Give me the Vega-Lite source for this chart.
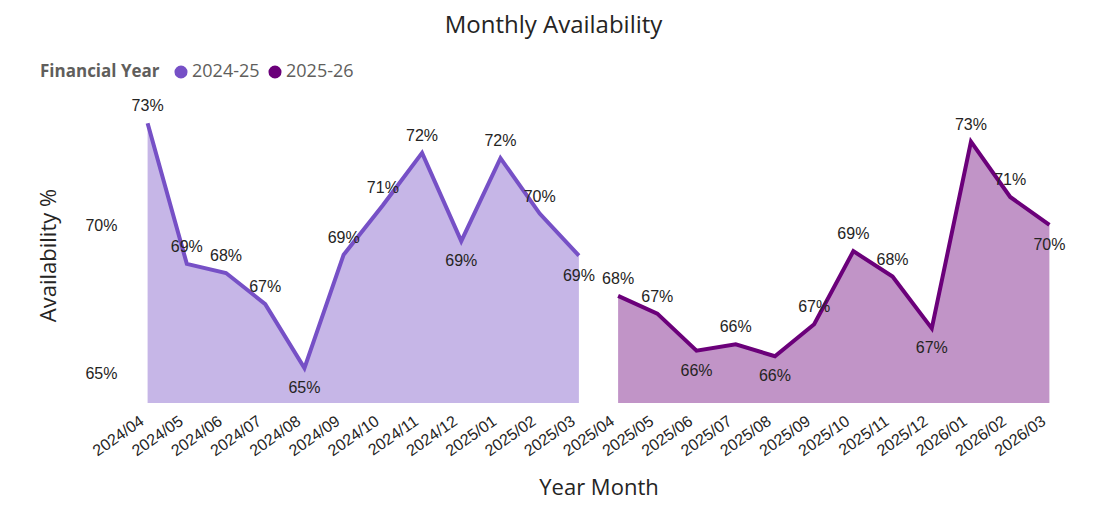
{
  "$schema": "https://vega.github.io/schema/vega-lite/v6.json",
  "width": 941,
  "height": 296,
  "autosize": {"type": "none"},
  "padding": {"left": 128, "top": 107, "right": 25, "bottom": 112},
  "background": "white",
  "title": {"text": "Monthly Availability", "frame": "group", "anchor": "middle", "dx": -45, "offset": 6, "baseline": "alphabetic", "fontSize": 24, "font": "Open Sans", "fontWeight": "normal", "color": "#252423"},
  "data": {"values": [
    {"month": "2024/04", "fy": "2024-25", "availability": 73.45},
    {"month": "2024/05", "fy": "2024-25", "availability": 68.70},
    {"month": "2024/06", "fy": "2024-25", "availability": 68.39},
    {"month": "2024/07", "fy": "2024-25", "availability": 67.34},
    {"month": "2024/08", "fy": "2024-25", "availability": 65.18},
    {"month": "2024/09", "fy": "2024-25", "availability": 69.01},
    {"month": "2024/10", "fy": "2024-25", "availability": 70.68},
    {"month": "2024/11", "fy": "2024-25", "availability": 72.45},
    {"month": "2024/12", "fy": "2024-25", "availability": 69.47},
    {"month": "2025/01", "fy": "2024-25", "availability": 72.27},
    {"month": "2025/02", "fy": "2024-25", "availability": 70.40},
    {"month": "2025/03", "fy": "2024-25", "availability": 68.98},
    {"month": "2025/04", "fy": "2025-26", "availability": 67.62},
    {"month": "2025/05", "fy": "2025-26", "availability": 67.02},
    {"month": "2025/06", "fy": "2025-26", "availability": 65.77},
    {"month": "2025/07", "fy": "2025-26", "availability": 65.98},
    {"month": "2025/08", "fy": "2025-26", "availability": 65.58},
    {"month": "2025/09", "fy": "2025-26", "availability": 66.66},
    {"month": "2025/10", "fy": "2025-26", "availability": 69.13},
    {"month": "2025/11", "fy": "2025-26", "availability": 68.27},
    {"month": "2025/12", "fy": "2025-26", "availability": 66.52},
    {"month": "2026/01", "fy": "2025-26", "availability": 72.83},
    {"month": "2026/02", "fy": "2025-26", "availability": 70.96},
    {"month": "2026/03", "fy": "2025-26", "availability": 70.02}
  ]},
  "encoding": {
    "x": {
      "field": "month", "type": "ordinal", "title": "Year Month",
      "scale": {"type": "point", "padding": 0.5},
      "axis": {"labelAngle": -35, "labelAlign": "right", "labelBaseline": "middle", "labelPadding": 16, "labelOffset": -6, "labelFont": "Liberation Sans", "labelFontSize": 16, "labelColor": "#252423", "domain": false, "ticks": false, "grid": false, "titleY": 84, "titleBaseline": "middle", "titleFont": "Open Sans", "titleFontSize": 22, "titleFontWeight": "normal", "titleColor": "#252423"}
    },
    "y": {
      "field": "availability", "type": "quantitative", "title": "Availability %", "stack": null,
      "scale": {"domain": [64, 74], "zero": false, "nice": false},
      "axis": {"values": [65, 70], "labelExpr": "datum.value + '%'", "domain": false, "ticks": false, "grid": false, "labelPadding": 11, "labelFont": "Liberation Sans", "labelFontSize": 16, "labelColor": "#252423", "titleFont": "Open Sans", "titleFontSize": 22, "titleFontWeight": "normal", "titleColor": "#252423", "titleX": -80, "titleBaseline": "middle"}
    },
    "color": {
      "field": "fy", "type": "nominal", "title": "Financial Year",
      "scale": {"domain": ["2024-25", "2025-26"], "range": ["#7650C6", "#6B007A"]},
      "legend": {"orient": "none", "legendX": -88, "legendY": -44, "direction": "horizontal", "titleOrient": "left", "titleFont": "Open Sans", "titleFontSize": 17, "titleFontWeight": "bold", "titleColor": "#605E5C", "labelFont": "Open Sans", "labelFontSize": 18, "labelColor": "#605E5C", "symbolType": "circle", "symbolSize": 170, "symbolOpacity": 1, "symbolStrokeWidth": 0, "columnPadding": 6, "labelOffset": 2, "titlePadding": 12}
    }
  },
  "layer": [
    {"mark": {"type": "area", "opacity": 0.42}},
    {"mark": {"type": "line", "strokeWidth": 4}},
    {
      "transform": [
        {"window": [{"op": "lag", "field": "availability", "as": "prev"}, {"op": "lead", "field": "availability", "as": "next"}], "groupby": ["fy"], "sort": [{"field": "month"}]},
        {"filter": "!(datum.prev != null && datum.availability < datum.prev && (datum.next == null || datum.availability < datum.next))"},
        {"calculate": "format(datum.availability, '.0f') + '%'", "as": "lbl"}
      ],
      "mark": {"type": "text", "dy": -17, "baseline": "middle", "align": "center", "font": "Liberation Sans", "fontSize": 16},
      "encoding": {"text": {"field": "lbl"}, "color": {"value": "#252423"}}
    },
    {
      "transform": [
        {"window": [{"op": "lag", "field": "availability", "as": "prev"}, {"op": "lead", "field": "availability", "as": "next"}], "groupby": ["fy"], "sort": [{"field": "month"}]},
        {"filter": "datum.prev != null && datum.availability < datum.prev && (datum.next == null || datum.availability < datum.next)"},
        {"calculate": "format(datum.availability, '.0f') + '%'", "as": "lbl"}
      ],
      "mark": {"type": "text", "dy": 20, "baseline": "middle", "align": "center", "font": "Liberation Sans", "fontSize": 16},
      "encoding": {"text": {"field": "lbl"}, "color": {"value": "#252423"}}
    }
  ],
  "config": {"view": {"stroke": null}}
}
